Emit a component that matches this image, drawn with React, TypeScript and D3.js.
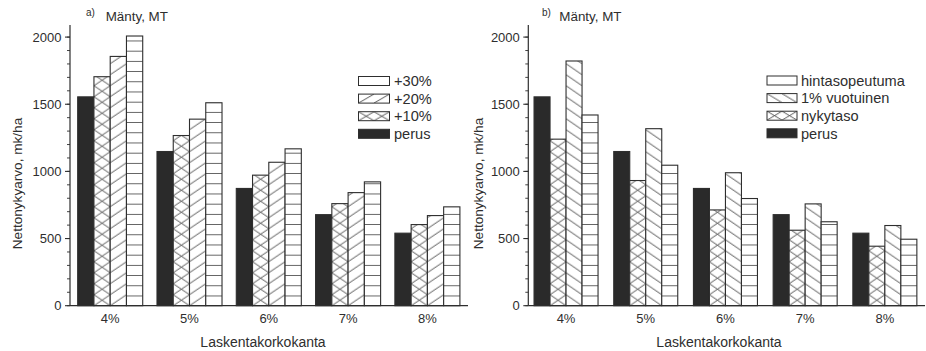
import React from "react";
import * as d3 from "d3";

const categories = ["4%", "5%", "6%", "7%", "8%"];
const perus = [1555, 1148, 873, 678, 540];
const plus10 = [1705, 1267, 972, 760, 604];
const plus20 = [1856, 1389, 1068, 842, 671];
const plus30 = [2008, 1511, 1168, 922, 736];
const nykytaso = [1240, 932, 713, 562, 443];
const vuotuinen = [1822, 1318, 990, 758, 597];
const hintasopeutuma = [1420, 1046, 798, 625, 495];
const yTicks = [0, 500, 1000, 1500, 2000];
const yMinorTicks = d3.range(0, 2001, 100);
const panelTitle = "Mänty, MT";
const yAxisTitle = "Nettonykyarvo, mk/ha";
const xAxisTitle = "Laskentakorkokanta";

const FONT = "'Liberation Sans', Arial, Helvetica, sans-serif";
const INK = "#2e2e2e";
const FILL_DARK = "#2a2a2a";

type Kind = "solid" | "cross" | "slash" | "backslash" | "hlines";
interface Series { name: string; values: number[]; kind: Kind }
interface PanelCfg {
  id: string;
  letter: string;
  axisLeft: number;
  axisRight: number;
  bandEnd: number;
  po: number;
  pi: number;
  series: Series[];
  legendX: number;
  legendW: number;
  legendTextX: number;
  legendY0: number;
  letterX: number;
  titleX: number;
  yLabelX: number;
  xLabelCx: number;
}

const panels: PanelCfg[] = [
  {
    id: "a", letter: "a)", axisLeft: 70, axisRight: 468, bandEnd: 467.6, po: 0.097, pi: 0.18,
    series: [
      { name: "perus", values: perus, kind: "solid" },
      { name: "+10%", values: plus10, kind: "cross" },
      { name: "+20%", values: plus20, kind: "slash" },
      { name: "+30%", values: plus30, kind: "hlines" },
    ],
    legendX: 358.5, legendW: 31, legendTextX: 394, legendY0: 81,
    letterX: 86, titleX: 105.7, yLabelX: 22, xLabelCx: 263,
  },
  {
    id: "b", letter: "b)", axisLeft: 528.3, axisRight: 925, bandEnd: 922.6, po: 0.072, pi: 0.197,
    series: [
      { name: "perus", values: perus, kind: "solid" },
      { name: "nykytaso", values: nykytaso, kind: "cross" },
      { name: "1% vuotuinen", values: vuotuinen, kind: "backslash" },
      { name: "hintasopeutuma", values: hintasopeutuma, kind: "hlines" },
    ],
    legendX: 767, legendW: 30, legendTextX: 801, legendY0: 80.5,
    letterX: 542, titleX: 559.3, yLabelX: 483, xLabelCx: 719,
  },
];

const y = d3.scaleLinear().domain([0, 2090]).range([305.7, 25]);

function PatternDef({ id, kind, x, yBase, w, h }: { id: string; kind: Kind; x: number; yBase: number; w: number; h: number }) {
  const sw = 0.8;
  return (
    <pattern id={id} patternUnits="userSpaceOnUse" x={x} y={yBase} width={w} height={h}>
      <rect x={0} y={0} width={w} height={h} fill="#fff" />
      {(kind === "slash" || kind === "cross") && (
        <line x1={0} y1={h} x2={w} y2={0} stroke={INK} strokeWidth={sw} />
      )}
      {(kind === "backslash" || kind === "cross") && (
        <line x1={0} y1={0} x2={w} y2={h} stroke={INK} strokeWidth={sw} />
      )}
      {kind === "hlines" && <line x1={0} y1={0.4} x2={w} y2={0.4} stroke={INK} strokeWidth={sw} />}
    </pattern>
  );
}

function fillFor(kind: Kind, id: string) {
  return kind === "solid" ? FILL_DARK : `url(#${id})`;
}

function Panel({ cfg }: { cfg: PanelCfg }) {
  const x = d3.scaleBand<string>().domain(categories).range([cfg.axisLeft, cfg.bandEnd]).paddingInner(cfg.pi).paddingOuter(cfg.po);
  const xs = d3.scaleBand<number>().domain(d3.range(cfg.series.length)).range([0, x.bandwidth()]);
  const bw = xs.bandwidth();
  const y0 = y(0);
  const defs: React.ReactNode[] = [];
  const bars: React.ReactNode[] = [];
  cfg.series.forEach((s, si) => {
    s.values.forEach((v, ci) => {
      const bx = (x(categories[ci]) as number) + (xs(si) as number);
      const pid = `pat-${cfg.id}-${si}-${ci}`;
      if (s.kind !== "solid") {
        defs.push(
          <PatternDef key={pid} id={pid} kind={s.kind} x={bx} yBase={y0}
            w={bw} h={s.kind === "hlines" ? 10.2 : 11} />
        );
      }
      bars.push(
        <rect key={`bar-${si}-${ci}`} x={bx} y={y(v)} width={bw} height={y0 - y(v)}
          fill={fillFor(s.kind, pid)} stroke={INK} strokeWidth={1.1} />
      );
    });
  });

  const legendRows = [...cfg.series].reverse();
  const rowGap = 17.6;
  const boxH = 9;
  legendRows.forEach((s, ri) => {
    const pid = `leg-${cfg.id}-${ri}`;
    const cy = cfg.legendY0 + ri * rowGap;
    if (s.kind !== "solid") {
      defs.push(
        <PatternDef key={pid} id={pid} kind={s.kind} x={cfg.legendX} yBase={cy + boxH / 2}
          w={cfg.legendW / 2} h={s.kind === "hlines" ? 20 : boxH} />
      );
    }
  });

  return (
    <g>
      <defs>{defs}</defs>
      {bars}
      <line x1={cfg.axisLeft} x2={cfg.axisLeft} y1={y(0)} y2={y(2090)} stroke={INK} strokeWidth={1.2} />
      {yMinorTicks.map((t) => (
        <line key={`mt${t}`} x1={cfg.axisLeft - 3} x2={cfg.axisLeft} y1={y(t)} y2={y(t)} stroke={INK} strokeWidth={0.9} />
      ))}
      {yTicks.map((t) => (
        <g key={`t${t}`}>
          <line x1={cfg.axisLeft - 5} x2={cfg.axisLeft} y1={y(t)} y2={y(t)} stroke={INK} strokeWidth={1.1} />
          <text x={cfg.axisLeft - 8.5} y={y(t)} dy="0.36em" textAnchor="end" fontSize={13} fill={INK} fontFamily={FONT}>{t}</text>
        </g>
      ))}
      <line x1={cfg.axisLeft} x2={cfg.axisRight} y1={y(0)} y2={y(0)} stroke={INK} strokeWidth={1.3} />
      {categories.map((c) => (
        <text key={c} x={(x(c) as number) + x.bandwidth() / 2} y={323} textAnchor="middle" fontSize={13} fill={INK} fontFamily={FONT}>{c}</text>
      ))}
      <text x={cfg.letterX} y={15.5} fontSize={10} fill={INK} fontFamily={FONT}>{cfg.letter}</text>
      <text x={cfg.titleX} y={20.5} fontSize={13.4} fill={INK} fontFamily={FONT}>{panelTitle}</text>
      <text transform={`translate(${cfg.yLabelX},183.5) rotate(-90)`} textAnchor="middle" fontSize={13.6} fill={INK} fontFamily={FONT}>{yAxisTitle}</text>
      <text x={cfg.xLabelCx} y={346.5} textAnchor="middle" fontSize={14} fill={INK} fontFamily={FONT}>{xAxisTitle}</text>
      {legendRows.map((s, ri) => {
        const cy = cfg.legendY0 + ri * rowGap;
        const pid = `leg-${cfg.id}-${ri}`;
        return (
          <g key={`leg${ri}`}>
            <rect x={cfg.legendX} y={cy - boxH / 2} width={cfg.legendW} height={boxH}
              fill={fillFor(s.kind, pid)} stroke={INK} strokeWidth={1} />
            <text x={cfg.legendTextX} y={cy} dy="0.36em" fontSize={14.6} fill={INK} fontFamily={FONT}>{s.name}</text>
          </g>
        );
      })}
    </g>
  );
}

export default function App() {
  return (
    <svg width={926} height={351} viewBox="0 0 926 351"
      style={{ position: "absolute", left: 0, top: 0, background: "#fff" }}>
      <rect x={0} y={0} width={926} height={351} fill="#fff" />
      {panels.map((p) => <Panel key={p.id} cfg={p} />)}
    </svg>
  );
}
